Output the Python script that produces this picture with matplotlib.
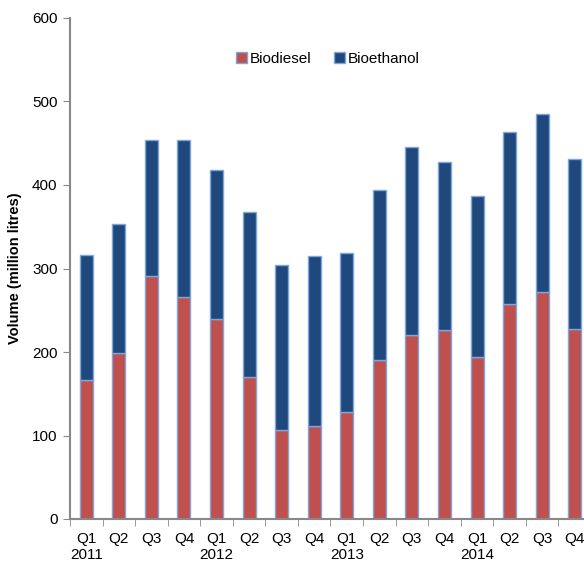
import matplotlib
matplotlib.use("Agg")
import matplotlib.pyplot as plt
import numpy as np

plt.rcParams['font.family'] = ['Liberation Sans', 'DejaVu Sans']

quarters = ["Q1", "Q2", "Q3", "Q4"] * 4
years = ["2011", "", "", "", "2012", "", "", "", "2013", "", "", "", "2014", "", "", ""]
biodiesel = [167, 199, 291, 266, 240, 170, 107, 111, 128, 191, 220, 226, 194, 258, 272, 228]
bioethanol = [149, 154, 163, 188, 178, 198, 197, 204, 190, 203, 225, 202, 193, 206, 213, 203]

labels = [q + ("\n" + y if y else "") for q, y in zip(quarters, years)]

fig = plt.figure(figsize=(5.84, 5.63), dpi=100)
ax = fig.add_axes([70/584, 44/563, (591-70)/584, (519-18)/563])

x = np.arange(len(biodiesel))
edge = "#7FA6DA"
ax.bar(x, biodiesel, width=0.4, color="#C0504D", edgecolor=edge, linewidth=1.0, label="Biodiesel")
ax.bar(x, bioethanol, width=0.4, bottom=biodiesel, color="#1F497D", edgecolor=edge, linewidth=1.0, label="Bioethanol")

ax.set_xlim(-0.5, len(x) - 0.5)
ax.set_ylim(0, 600)
ax.set_yticks(range(0, 601, 100))
ax.set_xticks(x)
ax.set_xticklabels(labels, va="top", ha="center", multialignment="center")
ax.set_xticks(np.arange(-0.5, len(x), 1), minor=True)
ax.tick_params(axis="x", which="major", length=0, pad=9, labelsize=11)
ax.tick_params(axis="x", which="minor", length=5, color="#888888", direction="out")
ax.tick_params(axis="y", length=5, color="#888888", labelsize=11, pad=4)

for s in ["top", "right"]:
    ax.spines[s].set_visible(False)
for s in ["left", "bottom"]:
    ax.spines[s].set_color("#888888")
    ax.spines[s].set_linewidth(1.5)

ax.set_ylabel("Volume (million litres)", fontweight="bold", fontsize=10.5, labelpad=7)

leg = ax.legend(loc="upper center", bbox_to_anchor=(0.5 - 0.005, 0.96), ncol=2, frameon=False,
                fontsize=11, handlelength=0.7, handleheight=0.7, handletextpad=0.2, columnspacing=1.5)

fig.savefig("out.png", dpi=100)
